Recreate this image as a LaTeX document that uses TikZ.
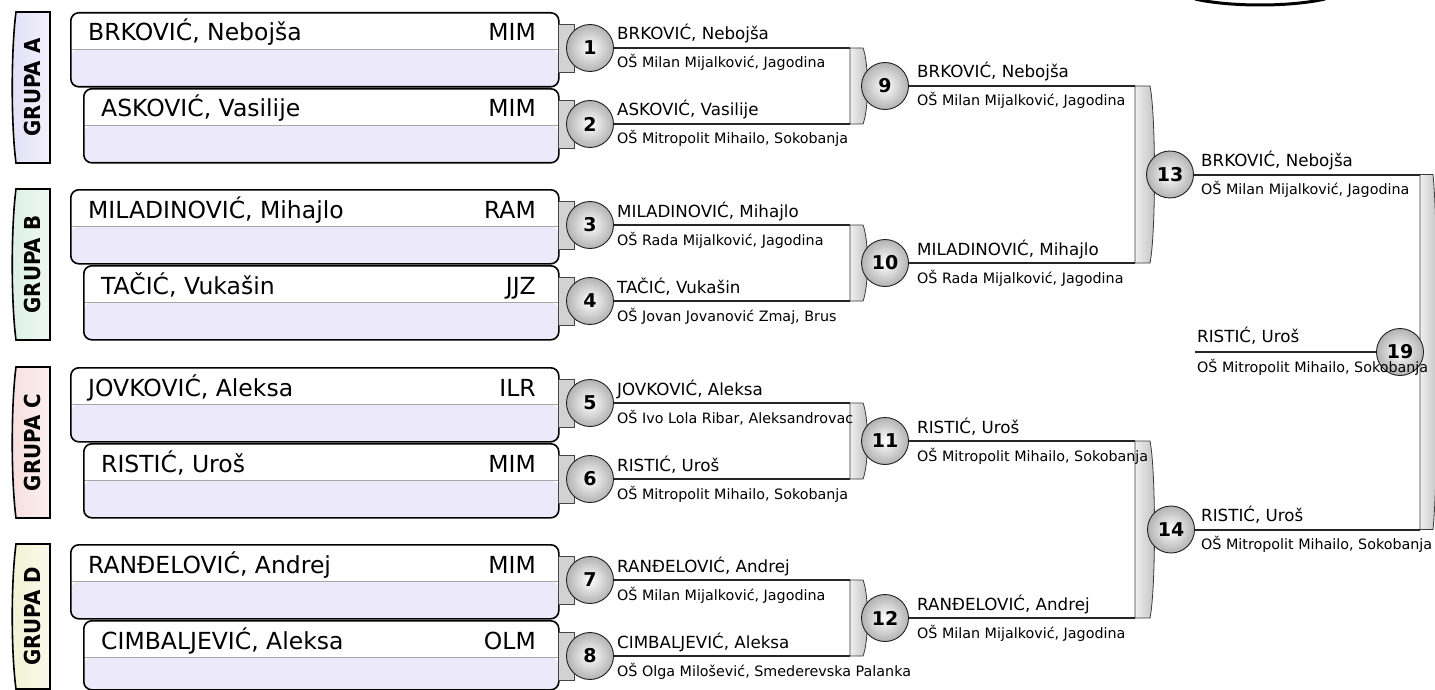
\documentclass[tikz,border=0pt]{standalone}
\usepackage{fontspec}
\setmainfont{DejaVu Sans}
\usepackage{tikz}
\usetikzlibrary{shapes.geometric}

\definecolor{lav}{RGB}{236,234,250}
\definecolor{grpA}{RGB}{226,224,246}
\definecolor{grpB}{RGB}{220,240,228}
\definecolor{grpC}{RGB}{247,222,222}
\definecolor{grpD}{RGB}{242,242,212}

\tikzset{
  pbox/.style={draw=black, line width=1.6pt, rounded corners=8pt, fill=white,
    inner sep=0pt, anchor=north west, minimum height=74pt,
    path picture={
      \fill[lav] ([yshift=-37pt]path picture bounding box.north west) rectangle (path picture bounding box.south east);
      \draw[gray!70, line width=1pt] ([yshift=-37pt]path picture bounding box.north west) -- ([yshift=-37pt]path picture bounding box.north east);
    }},
  pname/.style={font=\fontsize{23.5}{26}\selectfont, inner sep=0pt, anchor=base west},
  pcode/.style={font=\fontsize{23.5}{26}\selectfont, inner sep=0pt, anchor=base east},
  grp/.style={draw=black, line width=1.6pt},
  glabel/.style={rotate=90, xscale=0.9, inner sep=0pt, font=\bfseries\fontsize{22}{22}\selectfont},
  match/.style={circle, draw=gray!25!black, line width=0.9pt, minimum size=47pt, inner sep=0pt,
    shading=radial, inner color=white, outer color=gray!60, font=\bfseries\fontsize{19}{19}\selectfont},
  wname/.style={font=\fontsize{16.7}{18}\selectfont, inner sep=0pt, anchor=base west},
  wschool/.style={font=\fontsize{14.3}{16}\selectfont, inner sep=0pt, anchor=base west},
  wire/.style={line width=2pt, draw=black!85},
  brace/.style={draw=gray!45!black, line width=0.8pt, left color=gray!12, right color=gray!50},
  stub/.style={fill=gray!35, draw=gray!55!black, line width=0.6pt}
}

\begin{document}
\begin{tikzpicture}[x=1pt, y=-1pt]
\useasboundingbox (0,0) rectangle (1435,690);
\clip (0,0) rectangle (1435,690);

% groups
\draw[grp, left color=grpA, right color=grpA!45!white] (50,12) -- (16,12) .. controls (11,50) and (11,125) .. (16,163) -- (50,163) -- cycle;
\draw[grp, left color=grpB, right color=grpB!45!white] (50,189) -- (16,189) .. controls (11,227) and (11,302) .. (16,340) -- (50,340) -- cycle;
\draw[grp, left color=grpC, right color=grpC!45!white] (50,367) -- (16,367) .. controls (11,405) and (11,480) .. (16,518) -- (50,518) -- cycle;
\draw[grp, left color=grpD, right color=grpD!45!white] (50,544) -- (16,544) .. controls (11,582) and (11,651) .. (16,689) -- (50,689) -- cycle;
\node[glabel] (gA) at (32,87.5) {GRUPA A};
\node[glabel] (gB) at (32,264.5) {GRUPA B};
\node[glabel] (gC) at (32,442.5) {GRUPA C};
\node[glabel] (gD) at (32,616.5) {GRUPA D};

% players
\node[pbox, minimum width=488pt] (p1) at (70,12) {};
\node[pbox, minimum width=475pt] (p2) at (83,88) {};
\node[pbox, minimum width=488pt] (p3) at (70,189) {};
\node[pbox, minimum width=475pt] (p4) at (83,265) {};
\node[pbox, minimum width=488pt] (p5) at (70,367) {};
\node[pbox, minimum width=475pt] (p6) at (83,443) {};
\node[pbox, minimum width=488pt] (p7) at (70,544) {};
\node[pbox, minimum width=475pt, minimum height=69pt] (p8) at (83,620) {};

\node[pname] (n1) at (88,41) {BRKOVIĆ, Nebojša};
\node[pcode] (c1) at (536,41) {MIM};
\node[pname] (n2) at (101,117) {ASKOVIĆ, Vasilije};
\node[pcode] (c2) at (536,117) {MIM};
\node[pname] (n3) at (88,218) {MILADINOVIĆ, Mihajlo};
\node[pcode] (c3) at (536,218) {RAM};
\node[pname] (n4) at (101,294) {TAČIĆ, Vukašin};
\node[pcode] (c4) at (536,294) {JJZ};
\node[pname] (n5) at (88,396) {JOVKOVIĆ, Aleksa};
\node[pcode] (c5) at (536,396) {ILR};
\node[pname] (n6) at (101,472) {RISTIĆ, Uroš};
\node[pcode] (c6) at (536,472) {MIM};
\node[pname] (n7) at (88,573) {RANĐELOVIĆ, Andrej};
\node[pcode] (c7) at (536,573) {MIM};
\node[pname] (n8) at (101,649) {CIMBALJEVIĆ, Aleksa};
\node[pcode] (c8) at (536,649) {OLM};

% stubs behind first round
\draw[stub] (558,24) rectangle (574,72);
\draw[stub] (558,100) rectangle (574,148);
\draw[stub] (558,201) rectangle (574,249);
\draw[stub] (558,277) rectangle (574,325);
\draw[stub] (558,379) rectangle (574,427);
\draw[stub] (558,455) rectangle (574,503);
\draw[stub] (558,556) rectangle (574,604);
\draw[stub] (558,632) rectangle (574,680);

% junctions
\coordinate (j1) at (850,48);
\coordinate (j2) at (850,124);
\coordinate (j3) at (850,225);
\coordinate (j4) at (850,301);
\coordinate (j5) at (850,403);
\coordinate (j6) at (850,479);
\coordinate (j7) at (850,580);
\coordinate (j8) at (850,656);
\coordinate (j9) at (1135,86);
\coordinate (j10) at (1135,263);
\coordinate (j11) at (1135,441);
\coordinate (j12) at (1135,618);
\coordinate (j13) at (1420,174.5);
\coordinate (j14) at (1420,529.5);
\coordinate (s19) at (1195,352);

% braces
\draw[brace] (j1) -- ++(13,0) .. controls +(6,15) and +(6,-15) .. ([xshift=13pt]j2) -- (j2) -- cycle;
\draw[brace] (j3) -- ++(13,0) .. controls +(6,15) and +(6,-15) .. ([xshift=13pt]j4) -- (j4) -- cycle;
\draw[brace] (j5) -- ++(13,0) .. controls +(6,15) and +(6,-15) .. ([xshift=13pt]j6) -- (j6) -- cycle;
\draw[brace] (j7) -- ++(13,0) .. controls +(6,15) and +(6,-15) .. ([xshift=13pt]j8) -- (j8) -- cycle;
\draw[brace] (j9) -- ++(15,0) .. controls +(6,30) and +(6,-30) .. ([xshift=15pt]j10) -- (j10) -- cycle;
\draw[brace] (j11) -- ++(15,0) .. controls +(6,30) and +(6,-30) .. ([xshift=15pt]j12) -- (j12) -- cycle;
\draw[brace] (j13) -- ++(13,0) .. controls +(6,60) and +(6,-60) .. ([xshift=13pt]j14) -- (j14) -- cycle;

% matches
\node[match] (m1) at (590,48) {1};
\node[match] (m2) at (590,124) {2};
\node[match] (m3) at (590,225) {3};
\node[match] (m4) at (590,301) {4};
\node[match] (m5) at (590,403) {5};
\node[match] (m6) at (590,479) {6};
\node[match] (m7) at (590,580) {7};
\node[match] (m8) at (590,656) {8};
\node[match] (m9) at (885,86) {9};
\node[match] (m10) at (885,263) {10};
\node[match] (m11) at (885,441) {11};
\node[match] (m12) at (885,618) {12};
\node[match] (m13) at (1170,174.5) {13};
\node[match] (m14) at (1171,529.5) {14};

\draw[wire] (m1) -- (j1);
\draw[wire] (m2) -- (j2);
\draw[wire] (m3) -- (j3);
\draw[wire] (m4) -- (j4);
\draw[wire] (m5) -- (j5);
\draw[wire] (m6) -- (j6);
\draw[wire] (m7) -- (j7);
\draw[wire] (m8) -- (j8);
\draw[wire] (m9) -- (j9);
\draw[wire] (m10) -- (j10);
\draw[wire] (m11) -- (j11);
\draw[wire] (m12) -- (j12);
\draw[wire] (m13) -- (j13);
\draw[wire] (m14) -- (j14);

\node[match] (m19) at (1400,352) {19};
\draw[wire] (s19) -- (m19);

% winners
\node[wname] (w1) at (617,40) {BRKOVIĆ, Nebojša};
\node[wschool] (s1) at (617,68) {OŠ Milan Mijalković, Jagodina};
\node[wname] (w2) at (617,116) {ASKOVIĆ, Vasilije};
\node[wschool] (s2) at (617,144) {OŠ Mitropolit Mihailo, Sokobanja};
\node[wname] (w3) at (617,217) {MILADINOVIĆ, Mihajlo};
\node[wschool] (s3) at (617,245) {OŠ Rada Mijalković, Jagodina};
\node[wname] (w4) at (617,293) {TAČIĆ, Vukašin};
\node[wschool] (s4) at (617,321) {OŠ Jovan Jovanović Zmaj, Brus};
\node[wname] (w5) at (617,395) {JOVKOVIĆ, Aleksa};
\node[wschool] (s5) at (617,423) {OŠ Ivo Lola Ribar, Aleksandrovac};
\node[wname] (w6) at (617,471) {RISTIĆ, Uroš};
\node[wschool] (s6) at (617,499) {OŠ Mitropolit Mihailo, Sokobanja};
\node[wname] (w7) at (617,572) {RANĐELOVIĆ, Andrej};
\node[wschool] (s7) at (617,600) {OŠ Milan Mijalković, Jagodina};
\node[wname] (w8) at (617,648) {CIMBALJEVIĆ, Aleksa};
\node[wschool] (s8) at (617,676) {OŠ Olga Milošević, Smederevska Palanka};
\node[wname] (w9) at (917,78) {BRKOVIĆ, Nebojša};
\node[wschool] (s9) at (917,106) {OŠ Milan Mijalković, Jagodina};
\node[wname] (w10) at (917,255) {MILADINOVIĆ, Mihajlo};
\node[wschool] (s10) at (917,283) {OŠ Rada Mijalković, Jagodina};
\node[wname] (w11) at (917,433) {RISTIĆ, Uroš};
\node[wschool] (s11) at (917,461) {OŠ Mitropolit Mihailo, Sokobanja};
\node[wname] (w12) at (917,610) {RANĐELOVIĆ, Andrej};
\node[wschool] (s12) at (917,638) {OŠ Milan Mijalković, Jagodina};
\node[wname] (w13) at (1201,166) {BRKOVIĆ, Nebojša};
\node[wschool] (s13) at (1201,194) {OŠ Milan Mijalković, Jagodina};
\node[wname] (w14) at (1201,521) {RISTIĆ, Uroš};
\node[wschool] (s14) at (1201,549) {OŠ Mitropolit Mihailo, Sokobanja};
\node[wname] (w19) at (1197,342) {RISTIĆ, Uroš};
\node[wschool] (s19t) at (1197,372) {OŠ Mitropolit Mihailo, Sokobanja};

% top edge
\draw[line width=3pt] (1195,-1) .. controls (1230,7) and (1290,7) .. (1325,-1);
\end{tikzpicture}
\end{document}
